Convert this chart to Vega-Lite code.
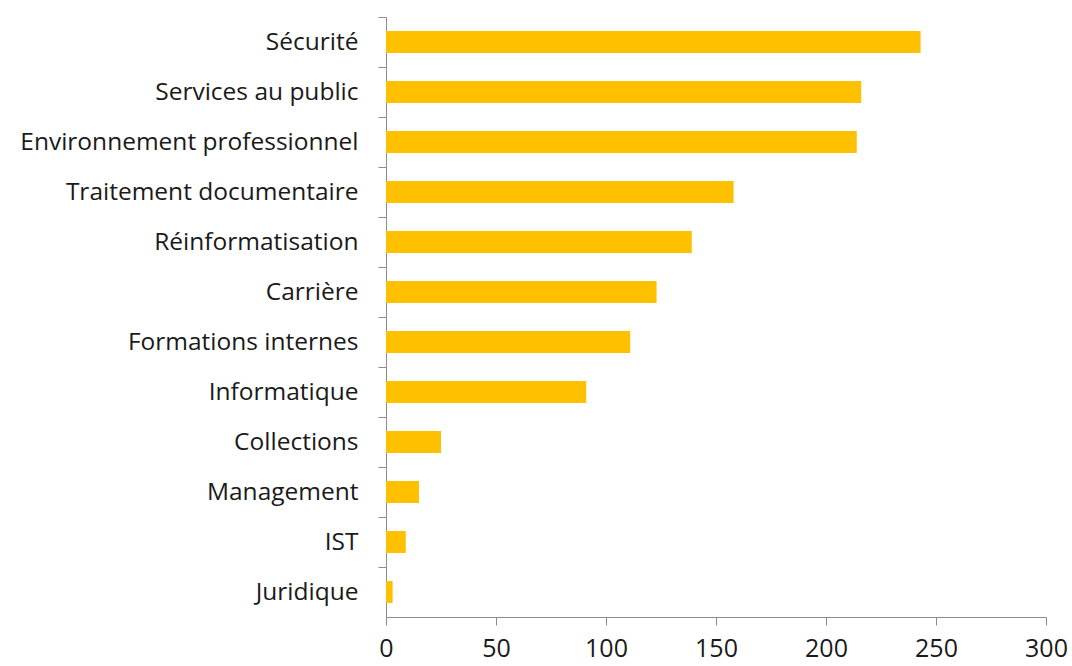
{
  "$schema": "https://vega.github.io/schema/vega-lite/v6.json",
  "width": 660,
  "height": 600,
  "autosize": "none",
  "padding": {"left": 386, "top": 17, "right": 26, "bottom": 49},
  "background": "white",
  "data": {"values": [
    {"theme": "Sécurité", "value": 243},
    {"theme": "Services au public", "value": 216},
    {"theme": "Environnement professionnel", "value": 214},
    {"theme": "Traitement documentaire", "value": 158},
    {"theme": "Réinformatisation", "value": 139},
    {"theme": "Carrière", "value": 123},
    {"theme": "Formations internes", "value": 111},
    {"theme": "Informatique", "value": 91},
    {"theme": "Collections", "value": 25},
    {"theme": "Management", "value": 15},
    {"theme": "IST", "value": 9},
    {"theme": "Juridique", "value": 3}
  ]},
  "config": {
    "view": {"stroke": null},
    "font": "Open Sans"
  },
  "mark": {"type": "bar", "color": "#FFC000"},
  "encoding": {
    "y": {
      "field": "theme", "type": "nominal", "sort": null, "title": null,
      "scale": {"paddingInner": 0.56, "paddingOuter": 0.28},
      "axis": {
        "domainColor": "#8c8c8c", "tickColor": "#8c8c8c", "tickSize": 8,
        "tickOffset": -25, "labelOffset": 25, "labelPadding": 20,
        "labelFontSize": 24.5, "labelColor": "#1a1a1a", "labelFont": "Open Sans",
        "labelLimit": 400
      }
    },
    "x": {
      "field": "value", "type": "quantitative", "title": null,
      "scale": {"domain": [0, 300], "nice": false},
      "axis": {
        "values": [0, 50, 100, 150, 200, 250, 300], "grid": false,
        "domainColor": "#8c8c8c", "tickColor": "#8c8c8c", "tickSize": 8,
        "labelFontSize": 25, "labelColor": "#1a1a1a", "labelFont": "Open Sans",
        "labelPadding": 11, "labelFlush": false
      }
    }
  }
}
